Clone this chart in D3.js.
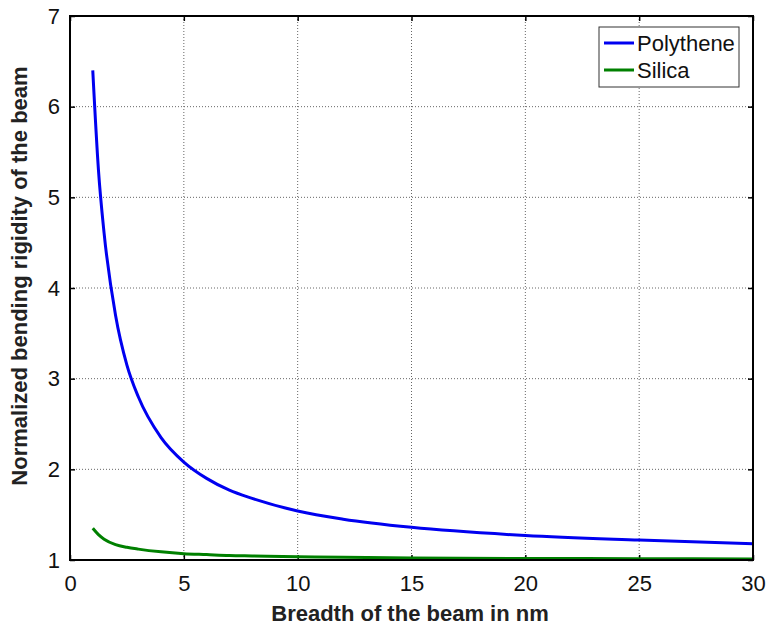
<!DOCTYPE html>
<html lang="en">
<head>
<meta charset="utf-8">
<title>Normalized bending rigidity</title>
<script src="https://cdnjs.cloudflare.com/ajax/libs/d3/7.8.5/d3.min.js"></script>
<style>
  body { margin: 0; background: #fff; }
  text { font-family: "Liberation Sans", Arial, sans-serif; }
</style>
</head>
<body>
<script>
// values
const breadth = [1, 1.25, 1.5, 2, 2.5, 3, 4, 5, 6, 7, 8, 10, 12, 15, 20, 25, 30];
const polythene = [6.4, 5.3, 4.6, 3.7, 3.15, 2.8, 2.35, 2.08, 1.9, 1.77, 1.68, 1.54, 1.45, 1.36, 1.27, 1.22, 1.18];
const silica = [1.35, 1.28, 1.23, 1.17, 1.14, 1.12, 1.09, 1.07, 1.06, 1.05, 1.045, 1.035, 1.03, 1.023, 1.017, 1.014, 1.012];
const xTicks = [0, 5, 10, 15, 20, 25, 30];
const yTicks = [1, 2, 3, 4, 5, 6, 7];
const seriesNames = ["Polythene", "Silica"];
const seriesColors = ["#0000f0", "#008000"];

const width = 767, height = 629;
const plotLeft = 70, plotRight = 753, plotTop = 16, plotBottom = 560;

const svg = d3.select("body").append("svg")
  .attr("width", width)
  .attr("height", height);

const x = d3.scaleLinear().domain([0, 30]).range([plotLeft, plotRight]);
const y = d3.scaleLinear().domain([1, 7]).range([plotBottom, plotTop]);

// grid
svg.append("g")
  .selectAll("line")
  .data(xTicks.slice(1, -1))
  .enter().append("line")
  .attr("x1", d => x(d)).attr("x2", d => x(d))
  .attr("y1", plotTop).attr("y2", plotBottom)
  .attr("stroke", "#666").attr("stroke-width", 1)
  .attr("stroke-dasharray", "1,2");
svg.append("g")
  .selectAll("line")
  .data(yTicks.slice(1, -1))
  .enter().append("line")
  .attr("x1", plotLeft).attr("x2", plotRight)
  .attr("y1", d => y(d)).attr("y2", d => y(d))
  .attr("stroke", "#666").attr("stroke-width", 1)
  .attr("stroke-dasharray", "1,2");

// axes (inward ticks)
const fmt = d3.format("d");
const bottomAxis = d3.axisBottom(x).tickValues(xTicks).tickFormat(fmt).tickSizeInner(-5).tickSizeOuter(0).tickPadding(15);
const leftAxis = d3.axisLeft(y).tickValues(yTicks).tickFormat(fmt).tickSizeInner(-5).tickSizeOuter(0).tickPadding(10);
const topAxis = d3.axisTop(x).tickValues(xTicks).tickSizeInner(-5).tickSizeOuter(0).tickFormat("");
const rightAxis = d3.axisRight(y).tickValues(yTicks).tickSizeInner(-5).tickSizeOuter(0).tickFormat("");

function styleAxis(g) {
  g.select(".domain").remove();
  g.selectAll("line").attr("stroke", "#000").attr("stroke-width", 1.5);
  g.selectAll("text")
    .style("font-family", "'Liberation Sans', Arial, sans-serif")
    .style("font-size", "22px")
    .attr("fill", "#111");
}

svg.append("g").attr("transform", "translate(0," + plotBottom + ")").call(bottomAxis).call(styleAxis);
svg.append("g").attr("transform", "translate(" + plotLeft + ",0)").call(leftAxis).call(styleAxis);
svg.append("g").attr("transform", "translate(0," + plotTop + ")").call(topAxis).call(styleAxis);
svg.append("g").attr("transform", "translate(" + plotRight + ",0)").call(rightAxis).call(styleAxis);

// lines
const line = d3.line()
  .x(d => x(d[0]))
  .y(d => y(d[1]))
  .curve(d3.curveMonotoneX);

[polythene, silica].forEach((vals, i) => {
  svg.append("path")
    .datum(breadth.map((b, j) => [b, vals[j]]))
    .attr("d", line)
    .attr("fill", "none")
    .attr("stroke", seriesColors[i])
    .attr("stroke-width", 3);
});

// box
svg.append("rect")
  .attr("x", plotLeft).attr("y", plotTop)
  .attr("width", plotRight - plotLeft).attr("height", plotBottom - plotTop)
  .attr("fill", "none").attr("stroke", "#000").attr("stroke-width", 2);

// legend
const lg = svg.append("g").attr("transform", "translate(599,27)");
lg.append("rect")
  .attr("width", 140).attr("height", 60)
  .attr("fill", "#fff").attr("stroke", "#333").attr("stroke-width", 1);
seriesNames.forEach((name, i) => {
  const yy = 16 + i * 27;
  lg.append("line")
    .attr("x1", 5).attr("x2", 35)
    .attr("y1", yy).attr("y2", yy)
    .attr("stroke", seriesColors[i]).attr("stroke-width", 3);
  lg.append("text")
    .attr("x", 38).attr("y", yy + 8)
    .style("font-size", "22px")
    .attr("fill", "#111")
    .text(name);
});

// axis titles
svg.append("text")
  .attr("x", 410)
  .attr("y", 621)
  .attr("text-anchor", "middle")
  .style("font-size", "22px")
  .style("font-weight", "bold")
  .attr("fill", "#222")
  .text("Breadth of the beam in nm");

svg.append("text")
  .attr("transform", "translate(27,276) rotate(-90)")
  .attr("text-anchor", "middle")
  .style("font-size", "22px")
  .style("font-weight", "bold")
  .attr("fill", "#222")
  .text("Normalized bending rigidity of the beam");
</script>
</body>
</html>
